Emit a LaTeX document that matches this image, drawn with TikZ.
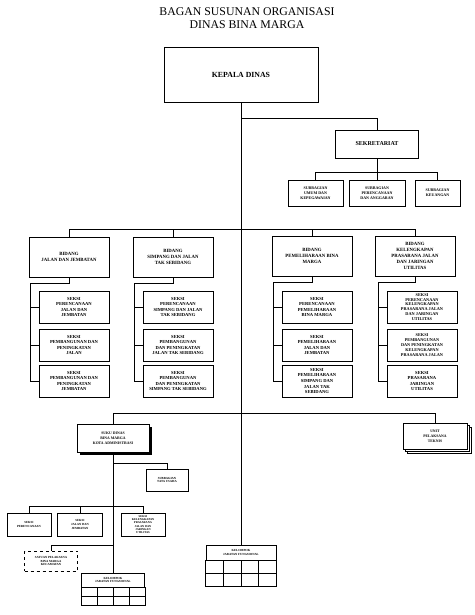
\documentclass[tikz,border=0pt]{standalone}
\usepackage{fontspec}
\setmainfont{Liberation Serif}
\usetikzlibrary{positioning,calc,shadows}

\begin{document}
\begin{tikzpicture}[
  x=1pt, y=-1pt,
  box/.style={draw, line width=0.9pt, fill=white, align=center, inner sep=1pt},
  judul/.style={align=center, font=\fontsize{11.8}{12.5}\selectfont},
  kepala/.style={box, minimum width=154pt, minimum height=55pt, font=\fontsize{7.8}{9}\selectfont\bfseries},
  sekre/.style={box, minimum width=83pt, minimum height=28pt, font=\fontsize{6}{7}\selectfont\bfseries},
  subbag/.style={box, minimum height=26pt, font=\fontsize{4}{4.8}\selectfont\bfseries},
  bidang/.style={box, minimum width=80pt, minimum height=40pt, font=\fontsize{4.8}{5.8}\selectfont\bfseries},
  seksi/.style={box, minimum width=70pt, minimum height=32pt, font=\fontsize{4.6}{5.6}\selectfont\bfseries},
  sudin/.style={box, minimum width=72pt, minimum height=28pt, font=\fontsize{3.8}{4.8}\selectfont\bfseries,
    drop shadow={shadow xshift=2.5pt, shadow yshift=-2.5pt, opacity=1, fill=black}},
  upt/.style={box, minimum width=64pt, minimum height=26pt, font=\fontsize{3.8}{4.8}\selectfont\bfseries,
    double copy shadow={shadow xshift=2pt, shadow yshift=-2pt}},
  kecil/.style={box, minimum height=23pt, font=\fontsize{3.1}{3.9}\selectfont\bfseries},
  kjf/.style={box, font=\fontsize{3.1}{3.9}\selectfont\bfseries},
  garis/.style={line width=0.7pt}
]
  \useasboundingbox (0,0) rectangle (474,615);

  % Judul
  \node[judul] (judul) at (247,18) {BAGAN SUSUNAN ORGANISASI\\DINAS BINA MARGA};

  % Pimpinan dan sekretariat
  \node[kepala] (kadis) at (241,74.5) {KEPALA DINAS};
  \node[sekre] (sekre) at (377,144) {SEKRETARIAT};
  \node[subbag, minimum width=55pt] (sbumum) at (315.5,193) {SUBBAGIAN\\UMUM DAN\\KEPEGAWAIAN};
  \node[subbag, minimum width=56pt] (sbren) at (377,193) {SUBBAGIAN\\PERENCANAAN\\DAN ANGGARAN};
  \node[subbag, minimum width=45pt] (sbkeu) at (437.5,193) {SUBBAGIAN\\KEUANGAN};

  % Bidang
  \node[bidang] (bjj) at (69,257) {BIDANG\\JALAN DAN JEMBATAN};
  \node[bidang] (bsjt) at (173,257) {BIDANG\\SIMPANG DAN JALAN\\TAK SEBIDANG};
  \node[bidang] (bpem) at (312,256) {BIDANG\\PEMELIHARAAN BINA\\MARGA};
  \node[bidang] (bkpj) at (415,256) {BIDANG\\KELENGKAPAN\\PRASARANA JALAN\\DAN JARINGAN\\UTILITAS};

  % Seksi
  \node[seksi] (sjj1) at (74,307) {SEKSI\\PERENCANAAN\\JALAN DAN\\JEMBATAN};
  \node[seksi] (sjj2) at (74,345) {SEKSI\\PEMBANGUNAN DAN\\PENINGKATAN\\JALAN};
  \node[seksi] (sjj3) at (74,381) {SEKSI\\PEMBANGUNAN DAN\\PENINGKATAN\\JEMBATAN};

  \node[seksi] (ssjt1) at (178,307) {SEKSI\\PERENCANAAN\\SIMPANG DAN JALAN\\TAK SEBIDANG};
  \node[seksi] (ssjt2) at (178,345) {SEKSI\\PEMBANGUNAN\\DAN PENINGKATAN\\JALAN TAK SEBIDANG};
  \node[seksi] (ssjt3) at (178,381) {SEKSI\\PEMBANGUNAN\\DAN PENINGKATAN\\SIMPANG TAK SEBIDANG};

  \node[seksi] (spem1) at (317,307) {SEKSI\\PERENCANAAN\\PEMELIHARAAN\\BINA MARGA};
  \node[seksi] (spem2) at (317,345) {SEKSI\\PEMELIHARAAN\\JALAN DAN\\JEMBATAN};
  \node[seksi] (spem3) at (317,381) {SEKSI\\PEMELIHARAAN\\SIMPANG DAN\\JALAN TAK\\SEBIDANG};

  \node[seksi, font=\fontsize{4.3}{4.9}\selectfont\bfseries] (skpj1) at (422,307) {SEKSI\\PERENCANAAN\\KELENGKAPAN\\PRASARANA JALAN\\DAN JARINGAN\\UTILITAS};
  \node[seksi, font=\fontsize{4.3}{5.2}\selectfont\bfseries] (skpj2) at (422,345) {SEKSI\\PEMBANGUNAN\\DAN PENINGKATAN\\KELENGKAPAN\\PRASARANA JALAN};
  \node[seksi] (skpj3) at (422,381) {SEKSI\\PRASARANA\\JARINGAN\\UTILITAS};

  % Suku dinas dan UPT
  \node[sudin] (sudin) at (113,438) {SUKU DINAS\\BINA MARGA\\KOTA ADMINISTRASI};
  \node[upt] (upt) at (435,436) {UNIT\\PELAKSANA\\TEKNIS};

  \node[kecil, minimum width=42pt, minimum height=22pt] (tu) at (167,480) {SUBBAGIAN\\TATA USAHA};
  \node[kecil, minimum width=44pt] (skren) at (29,524.5) {SEKSI\\PERENCANAAN};
  \node[kecil, minimum width=45pt] (skjj) at (80,524.5) {SEKSI\\JALAN DAN\\JEMBATAN};
  \node[kecil, minimum width=44pt, font=\fontsize{2.9}{3.3}\selectfont\bfseries] (skkpj) at (143,524.5) {SEKSI\\KELENGKAPAN\\PRASARANA\\JALAN DAN\\JARINGAN\\UTILITAS};
  \node[kecil, dashed, minimum width=53pt, minimum height=20pt] (satpel) at (51,561) {SATUAN PELAKSANA\\BINA MARGA\\KECAMATAN};

  % Kelompok jabatan fungsional
  \node[kjf, minimum width=63pt, minimum height=14pt] (kjf1) at (113,580) {KELOMPOK\\JABATAN FUNGSIONAL};
  \node[kjf, minimum width=70pt, minimum height=15pt] (kjf2) at (241,552.5) {KELOMPOK\\JABATAN FUNGSIONAL};

  \draw[line width=0.9pt] (kjf1.south west) rectangle ($(kjf1.south east)+(0,18)$);
  \draw[line width=0.9pt] ($(kjf1.south west)+(0,9)$) -- ($(kjf1.south east)+(0,9)$);
  \foreach \i in {1,2,3}
    \draw[line width=0.9pt] ($(kjf1.south west)!\i/4!(kjf1.south east)$) -- ++(0,18);

  \draw[line width=0.9pt] (kjf2.south west) rectangle ($(kjf2.south east)+(0,26)$);
  \draw[line width=0.9pt] ($(kjf2.south west)+(0,13)$) -- ($(kjf2.south east)+(0,13)$);
  \foreach \i in {1,2,3}
    \draw[line width=0.9pt] ($(kjf2.south west)!\i/4!(kjf2.south east)$) -- ++(0,26);

  % Garis komando
  \draw[garis] (kadis.south) -- (kjf2.north);

  \coordinate (jsekre) at (241,118);
  \draw[garis] (jsekre) -| (sekre.north);
  \draw[garis] (sekre.south) -- ++(0,14) -| (sbumum.north);
  \draw[garis] (sekre.south) -- ++(0,14) -| (sbkeu.north);
  \draw[garis] (sekre.south) -- (sbren.north);

  \coordinate (jbidang) at (241,229);
  \foreach \b in {bjj,bsjt,bpem,bkpj}
    \draw[garis] (jbidang) -| (\b.north);

  \foreach \b/\s in {bjj/sjj,bsjt/ssjt,bpem/spem,bkpj/skpj} {
    \draw[garis] (\b.south) -- ++(0,6) -| ([xshift=-8pt]\s3.west) -- (\s3.west);
    \draw[garis] ([xshift=-8pt]\s1.west) -- (\s1.west);
    \draw[garis] ([xshift=-8pt]\s2.west) -- (\s2.west);
  }

  \coordinate (jbawah) at (241,413);
  \draw[garis] (jbawah) -| (sudin.north);
  \draw[garis] (jbawah) -| (upt.north);

  \draw[garis] (sudin.south) -- (kjf1.north);
  \coordinate (jtu) at (113,463);
  \draw[garis] (jtu) -| (tu.north);
  \coordinate (jseksi) at (113,506);
  \foreach \s in {skren,skjj,skkpj}
    \draw[garis] (jseksi) -| (\s.north);
  \coordinate (jsatpel) at (113,545);
  \draw[garis] (jsatpel) -| (satpel.north);

\end{tikzpicture}
\end{document}
